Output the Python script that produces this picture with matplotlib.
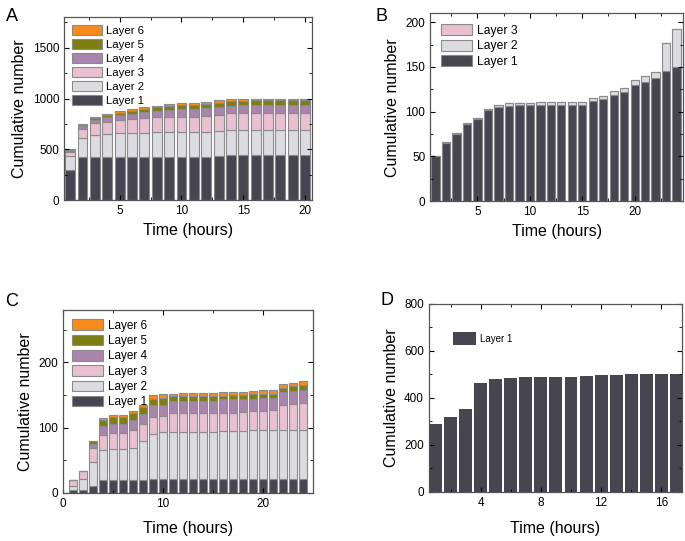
import numpy as np
import matplotlib
matplotlib.use("Agg")
import matplotlib.pyplot as plt
from matplotlib.ticker import MultipleLocator

plt.rcParams['font.family'] = ['Liberation Sans', 'DejaVu Sans']

layer_names = ['Layer 1', 'Layer 2', 'Layer 3', 'Layer 4', 'Layer 5', 'Layer 6']
layer_colors = ['#47454f', '#dcdce0', '#e9c0d0', '#a985ad', '#7e7f12', '#f98a1c']

# Panel A: 20 hours, 6 layers
hours_a = list(range(1, 21))
a_l1 = [300, 425, 425, 425, 425, 425, 425, 425, 425, 425, 425, 425, 435, 440, 442, 442, 442, 442, 442, 442]
a_l2 = [130, 183, 216, 226, 233, 233, 240, 243, 246, 249, 245, 249, 246, 250, 252, 253, 253, 253, 253, 253]
a_l3 = [40, 93, 116, 122, 132, 140, 144, 148, 148, 148, 152, 156, 162, 164, 163, 164, 164, 164, 164, 164]
a_l4 = [18, 26, 36, 46, 48, 52, 60, 64, 68, 72, 74, 74, 74, 76, 78, 79, 79, 79, 79, 79]
a_l5 = [7, 13, 16, 20, 24, 30, 32, 34, 38, 40, 40, 42, 43, 42, 42, 44, 44, 44, 44, 44]
a_l6 = [5, 7, 10, 10, 13, 15, 17, 17, 19, 20, 20, 21, 22, 20, 19, 18, 18, 18, 18, 18]

# Panel B: 24 hours, 3 layers
hours_b = list(range(1, 25))
b_l1 = [50, 65, 75, 86, 92, 101.5, 105.5, 106.5, 107.5, 107.5, 108, 108, 108, 108, 108,
        112.5, 114, 118.5, 122, 129.5, 133, 138, 146, 150]
b_l2 = [0.5, 1, 1.5, 1.5, 1.5, 1, 2.5, 2.8, 2.8, 2.8, 3, 3, 3, 3, 3,
        2.8, 3.2, 4.5, 4.8, 5.8, 6.5, 6, 31, 42.5]
b_l3 = [0] * 24

# Panel C: 24 hours, 6 layers
hours_c = list(range(1, 25))
c_l1 = [4, 5, 10, 20, 20, 20, 20, 20, 21, 21, 21, 21, 21, 21, 21, 21, 21, 21, 21, 21, 21, 21, 21, 21]
c_l2 = [7, 16, 37, 46, 47, 47, 49, 59, 69, 72, 72, 72, 72, 72, 72, 73, 73, 74, 75, 75, 76, 76, 76, 76]
c_l3 = [9, 12, 22, 23, 24, 24, 27, 26, 26, 24, 29, 29, 29, 29, 29, 29, 29, 29, 29, 30, 30, 37, 39, 41]
c_l4 = [0, 0, 6, 14, 15, 15, 16, 16, 18, 18, 19, 19, 19, 19, 19, 20, 20, 20, 19, 19, 18, 20, 20, 20]
c_l5 = [0, 0, 4, 9, 10, 10, 11, 10, 10, 10, 7, 7, 7, 7, 7, 6, 7, 6, 7, 6, 6, 6, 7, 7]
c_l6 = [0, 0, 1, 2, 3, 3, 3, 4, 6, 6, 4, 5, 5, 5, 5, 6, 5, 5, 5, 6, 7, 6, 5, 6]

# Panel D: 17 hours, 1 layer
hours_d = list(range(1, 18))
d_l1 = [290, 320, 355, 465, 482, 484, 489, 489, 491, 491, 494, 496, 498, 501, 501, 502, 503]


def stacked(ax, x, layers, n, width=0.8, edge='#8a8a8a'):
    bottom = np.zeros(len(x))
    for i in range(n):
        ax.bar(x, layers[i], bottom=bottom, width=width, color=layer_colors[i],
               edgecolor=edge, linewidth=0.8, label=layer_names[i])
        bottom += np.array(layers[i])


def style(ax):
    ax.tick_params(which='both', direction='in', top=True, right=True, labelsize=8.5)
    ax.tick_params(which='major', length=3.5, width=0.8)
    ax.tick_params(which='minor', length=2, width=0.6)
    for s in ax.spines.values():
        s.set_color('#555555')
        s.set_linewidth(0.9)


def add_legend(ax, size, **kw):
    h, l = ax.get_legend_handles_labels()
    ax.legend(h[::-1], l[::-1], loc='upper left', frameon=False, fontsize=size,
              handlelength=2.6, handleheight=1.0, labelspacing=0.25,
              handletextpad=0.4, borderaxespad=0.3, **kw)


fig = plt.figure(figsize=(6.85, 5.41), dpi=100)

# A
ax = fig.add_axes([0.0934, 0.630, 0.362, 0.338])
stacked(ax, hours_a, [a_l1, a_l2, a_l3, a_l4, a_l5, a_l6], 6)
ax.set_xlim(0.5, 20.55)
ax.set_ylim(0, 1800)
ax.xaxis.set_major_locator(MultipleLocator(5))
ax.xaxis.set_minor_locator(MultipleLocator(2.5))
ax.yaxis.set_major_locator(MultipleLocator(500))
ax.yaxis.set_minor_locator(MultipleLocator(250))
style(ax)
ax.set_xlabel('Time (hours)', fontsize=11.5)
ax.set_ylabel('Cumulative number', fontsize=11.5)
add_legend(ax, 8.2)
fig.text(0.008, 0.985, 'A', fontsize=13, va='top')

# B
ax = fig.add_axes([0.628, 0.628, 0.369, 0.3475])
stacked(ax, hours_b, [b_l1, b_l2, b_l3], 3)
ax.set_xlim(0.5, 24.6)
ax.set_ylim(0, 210)
ax.xaxis.set_major_locator(MultipleLocator(5))
ax.xaxis.set_minor_locator(MultipleLocator(2.5))
ax.yaxis.set_major_locator(MultipleLocator(50))
ax.yaxis.set_minor_locator(MultipleLocator(25))
style(ax)
ax.set_xlabel('Time (hours)', fontsize=11.5)
ax.set_ylabel('Cumulative number', fontsize=11.5)
add_legend(ax, 8.7, borderpad=0.6)
fig.text(0.548, 0.985, 'B', fontsize=13, va='top')

# C
ax = fig.add_axes([0.092, 0.089, 0.365, 0.338])
stacked(ax, hours_c, [c_l1, c_l2, c_l3, c_l4, c_l5, c_l6], 6)
ax.set_xlim(0, 25)
ax.set_ylim(0, 280)
ax.xaxis.set_major_locator(MultipleLocator(10))
ax.xaxis.set_minor_locator(MultipleLocator(5))
ax.yaxis.set_major_locator(MultipleLocator(100))
ax.yaxis.set_minor_locator(MultipleLocator(50))
style(ax)
ax.set_xlabel('Time (hours)', fontsize=11.5, labelpad=8)
ax.set_ylabel('Cumulative number', fontsize=11.5)
add_legend(ax, 8.5, borderpad=0.5)
fig.text(0.008, 0.458, 'C', fontsize=13, va='top')

# D
ax = fig.add_axes([0.626, 0.0906, 0.369, 0.3475])
ax.bar(hours_d, d_l1, width=0.86, color=layer_colors[0], edgecolor='none', label='Layer 1')
ax.set_xlim(0.55, 17.35)
ax.set_ylim(0, 800)
ax.xaxis.set_major_locator(MultipleLocator(4))
ax.xaxis.set_minor_locator(MultipleLocator(2))
ax.yaxis.set_major_locator(MultipleLocator(200))
ax.yaxis.set_minor_locator(MultipleLocator(100))
style(ax)
ax.set_xlabel('Time (hours)', fontsize=11.5, labelpad=9)
ax.set_ylabel('Cumulative number', fontsize=11.5)
ax.legend(loc='upper left', frameon=False, fontsize=7, handlelength=2.4,
          handleheight=1.8, handletextpad=0.4, bbox_to_anchor=(0.06, 0.9))
fig.text(0.556, 0.46, 'D', fontsize=13, va='top')

fig.savefig('out.png', dpi=100)
